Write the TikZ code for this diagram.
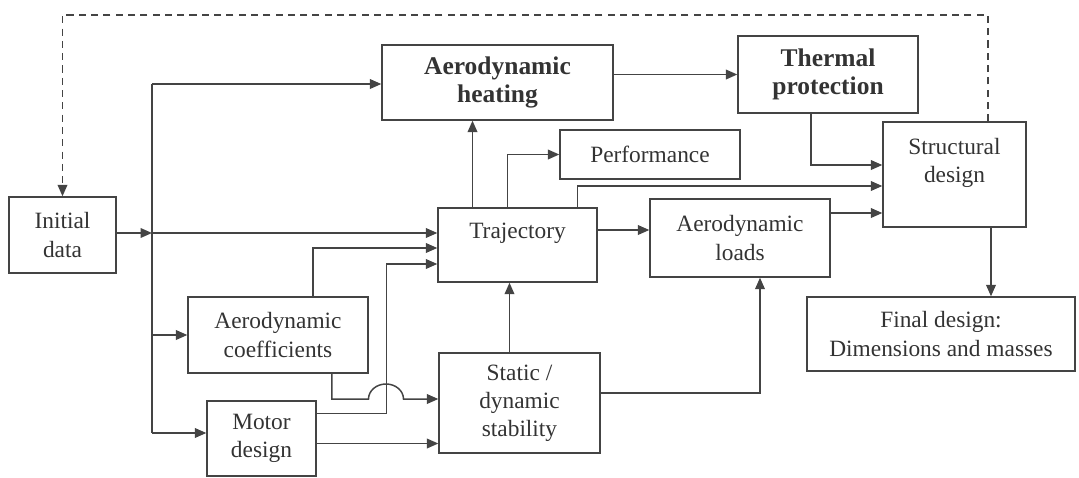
\documentclass[tikz,border=0pt]{standalone}
\usepackage{fontspec}
\setmainfont{Liberation Serif}
\usepackage{xcolor}
\usepackage{tikz}
\usetikzlibrary{arrows.meta}
\definecolor{linegray}{HTML}{444444}
\definecolor{textgray}{HTML}{333333}

\begin{document}
\begin{tikzpicture}[x=0.02cm,y=-0.02cm,
  box/.style={draw=linegray,line width=0.8pt,align=center,text=textgray,
    font=\fontsize{13.3}{16}\selectfont,inner sep=2pt},
  boldbox/.style={box,font=\fontsize{14.5}{16}\selectfont\bfseries},
  wire/.style={draw=linegray,line width=0.85pt},
  link/.style={wire,-{Triangle[length=6.5pt,width=5.5pt]}},
  feedback/.style={link,dash pattern=on 4pt off 3pt}]
\useasboundingbox (0,0) rectangle (1079,477);

% blocks
\node[box,minimum width=2.14cm,minimum height=1.52cm] (init) at (62.5,235) {Initial\\data};
\node[boldbox,minimum width=4.62cm,minimum height=1.5cm] (heat) at (497.5,82.5) {Aerodynamic\\heating};
\node[boldbox,minimum width=3.6cm,minimum height=1.54cm] (thermal) at (828,74.5) {Thermal\\protection};
\node[box,minimum width=3.6cm,minimum height=0.98cm] (perf) at (650,154.5) {Performance};
\node[box,minimum width=2.86cm,minimum height=2.1cm] (struct) at (954.5,174.5) {Structural\\design\\\mbox{}};
\node[box,minimum width=3.18cm,minimum height=1.48cm] (traj) at (517.5,245) {Trajectory\\\mbox{}};
\node[box,minimum width=3.6cm,minimum height=1.56cm] (loads) at (740,238) {Aerodynamic\\loads};
\node[box,minimum width=5.36cm,minimum height=1.48cm] (final) at (941,334) {Final design:\\Dimensions and masses};
\node[box,minimum width=3.6cm,minimum height=1.52cm] (coeff) at (278,335) {Aerodynamic\\coefficients};
\node[box,minimum width=2.18cm,minimum height=1.5cm] (motor) at (261.5,438.5) {Motor\\design};
\node[box,minimum width=3.22cm,minimum height=2cm] (stab) at (519.5,403) {Static /\\dynamic\\stability};

% branch points
\coordinate (trunktop) at (152,84);
\coordinate (trunkbot) at (152,433);
\coordinate (jinit) at (152,233);
\coordinate (hop) at (386,399);
\coordinate (fbtop) at (500,15);

% initial data distribution
\draw[link] (init.east |- jinit) -- (jinit);
\draw[wire] (trunktop) -- (trunkbot);
\draw[link] (trunktop) -- (trunktop -| heat.west);
\draw[link] (jinit) -- (jinit -| traj.west);
\draw[link] (trunktop |- coeff.west) -- (coeff.west);
\draw[link] (trunkbot) -- (trunkbot -| motor.west);

% upper chain
\draw[link] (heat.east |- thermal.west) -- (thermal.west);
\draw[link] ([xshift=-0.9cm]traj.north) -- ([xshift=-0.9cm]traj.north |- heat.south);
\draw[link] ([xshift=-0.2cm]traj.north) |- (perf.west);
\draw[link] ([xshift=1.2cm]traj.north) |- ([yshift=-0.23cm]struct.west);
\draw[link] ([xshift=-0.34cm]thermal.south) |- ([yshift=0.19cm]struct.west);
\draw[link] ([yshift=0.5cm]loads.east) -- ([yshift=0.5cm]loads.east -| struct.west);
\draw[link] ([yshift=0.3cm]traj.east) -- ([yshift=0.3cm]traj.east -| loads.west);
\draw[link] ([xshift=0.73cm]struct.south) -- ([xshift=0.73cm]struct.south |- final.north);

% lower part
\draw[link] ([xshift=0.7cm]coeff.north) |- ([yshift=-0.06cm]traj.west);
\draw[link] ([yshift=0.5cm]motor.east) -- ++(70,0) |- ([yshift=-0.38cm]traj.west);
\draw[link] ([yshift=-0.1cm]motor.east) -- ([yshift=-0.1cm]motor.east -| stab.west);
\draw[link] ([xshift=1.08cm]coeff.south) |- ([xshift=-0.35cm]hop)
  arc[start angle=180,end angle=0,x radius=0.35cm,y radius=0.3cm] -- (hop -| stab.west);
\draw[link] ([xshift=-0.2cm]stab.north) -- ([xshift=-0.2cm]stab.north |- traj.south);
\draw[link] ([yshift=0.2cm]stab.east) -| ([xshift=0.4cm]loads.south);

% iteration loop
\draw[feedback] ([xshift=0.67cm]struct.north) |- (fbtop) -| (init.north);
\end{tikzpicture}
\end{document}
